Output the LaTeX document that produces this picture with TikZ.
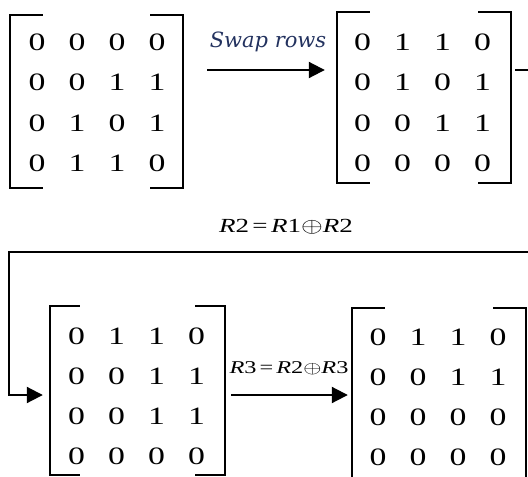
\documentclass[tikz,border=0pt]{standalone}
\usepackage{fontspec}
\usepackage{graphicx}
\usetikzlibrary{arrows.meta,matrix}
\setmainfont{Liberation Serif}
\newfontfamily\numfont[FakeStretch=1.35]{Liberation Serif}
\newfontfamily\swapfont{DejaVu Serif}
\definecolor{swapblue}{RGB}{35,50,95}
\tikzset{
  digit/.style={minimum width=40pt, minimum height=40.3pt, inner sep=0pt,
    text height=17pt, text depth=0pt, font=\numfont\fontsize{25}{25}\selectfont},
  mat/.style={matrix of nodes, nodes={digit}, column sep=0pt, row sep=0pt, inner sep=0pt},
  frame/.style={inner sep=0pt, draw=none},
  bracket/.style={line width=2pt},
  conn/.style={line width=2pt},
  arr/.style={conn, -{Triangle[length=16pt,width=16pt]}},
  lbl/.style={inner sep=0pt, font=\numfont\fontsize{20}{20}\selectfont},
  swaplbl/.style={inner sep=0pt, text=swapblue, font=\swapfont\itshape\fontsize{21}{21}\selectfont},
}
\newcommand\mybrackets[2]{%
  \draw[bracket] ([xshift=#2]#1.north west) -- (#1.north west) -- (#1.south west) -- ([xshift=#2]#1.south west);
  \draw[bracket] ([xshift=-#2]#1.north east) -- (#1.north east) -- (#1.south east) -- ([xshift=-#2]#1.south east);}
\newcommand\xo{\scalebox{1.35}[1]{$\oplus$}}
\begin{document}
\begin{tikzpicture}[x=1pt,y=-1pt]
\useasboundingbox (0,0) rectangle (528,477);
\fill[white] (0,0) rectangle (528,477);
\clip (0,0) rectangle (528,477);

% matrices
\matrix[mat] (M1) at (97,102.5) {
0 & 0 & 0 & 0\\ 0 & 0 & 1 & 1\\ 0 & 1 & 0 & 1\\ 0 & 1 & 1 & 0\\};
\matrix[mat] (M2) at (422.5,102.5) {
0 & 1 & 1 & 0\\ 0 & 1 & 0 & 1\\ 0 & 0 & 1 & 1\\ 0 & 0 & 0 & 0\\};
\matrix[mat] (M3) at (136.5,396) {
0 & 1 & 1 & 0\\ 0 & 0 & 1 & 1\\ 0 & 0 & 1 & 1\\ 0 & 0 & 0 & 0\\};
\matrix[mat] (M4) at (438,397) {
0 & 1 & 1 & 0\\ 0 & 0 & 1 & 1\\ 0 & 0 & 0 & 0\\ 0 & 0 & 0 & 0\\};

% bracket frames
\node[frame, minimum width=173pt, minimum height=173pt] (f1) at (96.5,101.5) {};
\node[frame, minimum width=174pt, minimum height=171pt] (f2) at (424,97.5) {};
\node[frame, minimum width=175pt, minimum height=169pt] (f3) at (137.5,390.5) {};
\node[frame, minimum width=174pt, minimum height=176pt] (f4) at (439,396) {};
\mybrackets{f1}{33pt}
\mybrackets{f2}{33pt}
\mybrackets{f3}{30pt}
\mybrackets{f4}{33pt}

% connectors
\coordinate (r1) at (0,70);
\coordinate (r3) at (0,395);
\coordinate (loopA) at (545,70);
\coordinate (loopB) at (545,252);
\coordinate (loopC) at (9,252);
\coordinate (loopD) at (9,395);
\draw[arr, shorten <=24pt, shorten >=12pt] (f1.east |- r1) -- (f2.west |- r1);
\draw[arr, shorten <=4pt, shorten >=7pt] (f2.east |- r1) -- (loopA) -- (loopB) -- (loopC) -- (loopD) -- (f3.west |- r3);
\draw[arr, shorten <=6pt, shorten >=4pt] (f3.east |- r3) -- (f4.west |- r3);

% labels
\node[swaplbl] (swap) at (268,42) {Swap rows};
\node[lbl] (eq1) at (286,227) {\textit{R}2\,=\,\textit{R}1\xo\textit{R}2};
\node[lbl, font=\numfont\fontsize{18}{18}\selectfont] (eq2) at (289,368) {\textit{R}3\,=\,\textit{R}2\xo\textit{R}3};
\end{tikzpicture}
\end{document}
